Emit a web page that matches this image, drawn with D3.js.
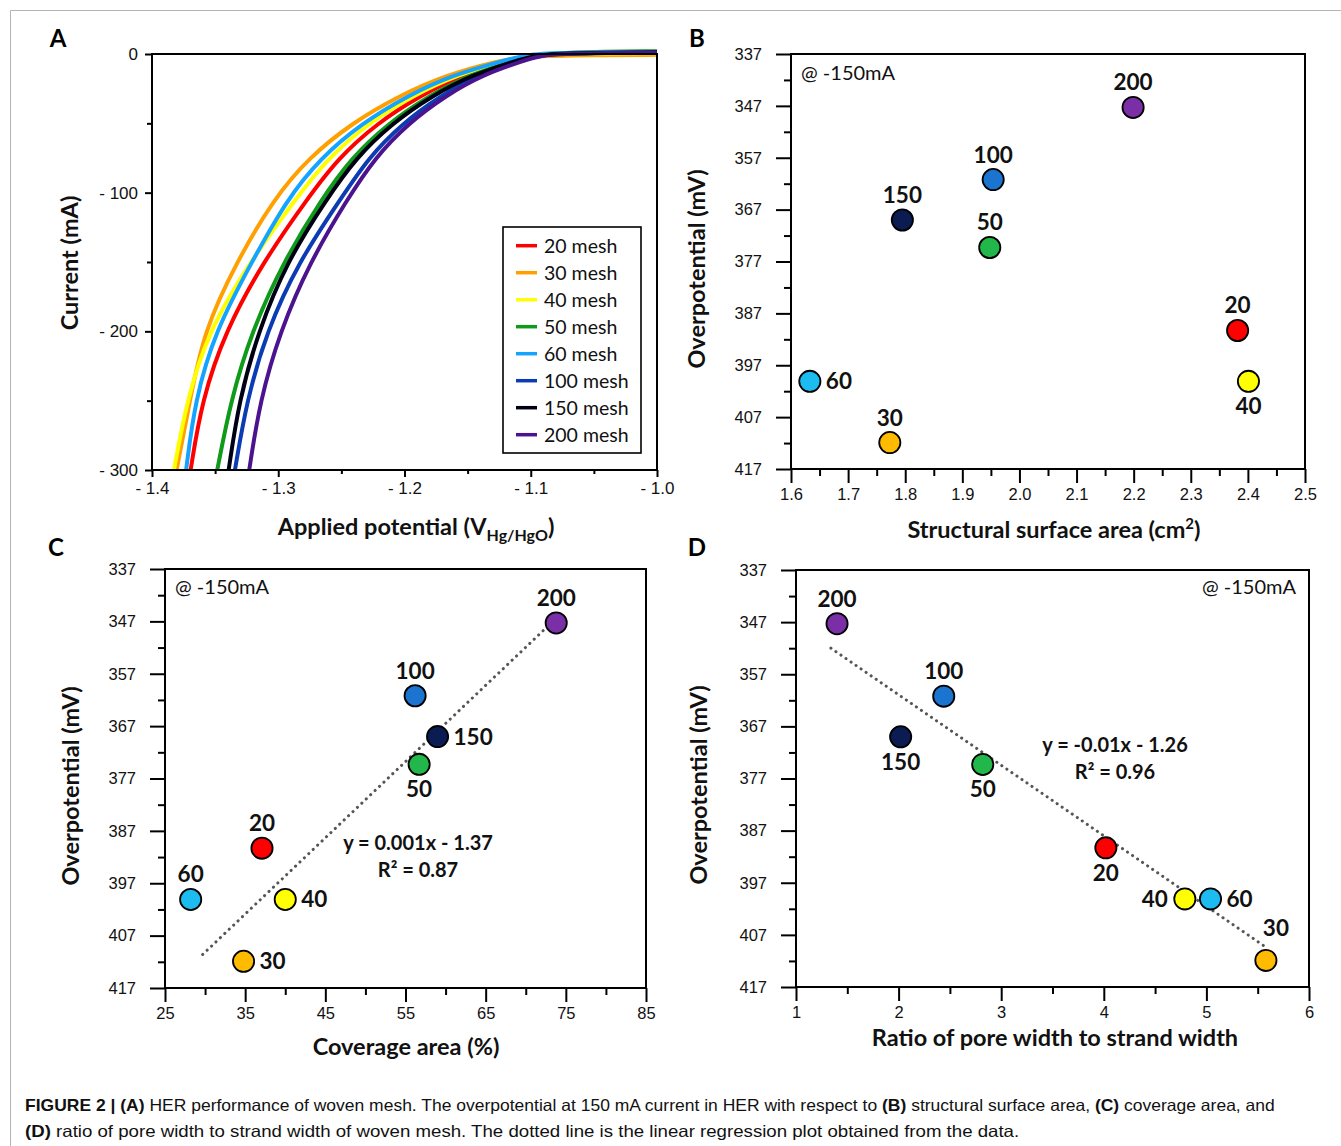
<!DOCTYPE html>
<html>
<head>
<meta charset="utf-8">
<script src="https://cdn.jsdelivr.net/npm/d3@7"></script>
<style>
  body { margin: 0; background: #fff; }
  svg { font-family: Lato, 'Open Sans', sans-serif; }
  .tick text { fill: #111; }
  .tick line { stroke: #000; stroke-width: 2; }
  .domain { display: none; }
  .title { font-weight: bold; font-size: 23.5px; fill: #111; }
  .pt-label { font-weight: bold; font-size: 22.5px; fill: #111; }
  .note { font-size: 20px; fill: #111; }
  .eq { font-weight: bold; font-size: 20px; fill: #111; }
  .letter { font-weight: bold; font-size: 24px; fill: #000; }
  .caption { font-family: 'Liberation Sans Narrow', 'Liberation Sans', Arial, sans-serif; font-size: 16.5px; fill: #111; }
</style>
</head>
<body>
<svg id="chart" width="1341" height="1146"></svg>
<script>

// Mesh sizes
const meshes = [20, 30, 40, 50, 60, 100, 150, 200]
const legend_names = meshes.map(m => `${m} mesh`)

// Panel A: LSV curves as [potential (V), current (mA)]
const lsv_20 = [[-1.3694, -300], [-1.3606, -250], [-1.3420, -200], [-1.3120, -150], [-1.2775, -105], [-1.2524, -75], [-1.2218, -50], [-1.1876, -30], [-1.1540, -15], [-1.1170, -5], [-1.0985, 0], [-1.05, 0.6], [-1.0, 1.0]]
const lsv_30 = [[-1.3805, -300], [-1.3700, -250], [-1.3590, -200], [-1.3330, -150], [-1.3040, -105], [-1.2760, -75], [-1.2420, -50], [-1.2040, -30], [-1.1666, -15], [-1.1256, -5], [-1.1050, -1.5], [-1.05, -0.8], [-1.0, -0.6]]
const lsv_40 = [[-1.3826, -300], [-1.3725, -250], [-1.3554, -200], [-1.3224, -150], [-1.2867, -105], [-1.2605, -75], [-1.2288, -50], [-1.1933, -30], [-1.1583, -15], [-1.1200, -5], [-1.1008, 0], [-1.05, 0.4], [-1.0, 0.6]]
const lsv_50 = [[-1.3483, -300], [-1.3377, -250], [-1.3210, -200], [-1.2960, -150], [-1.2660, -105], [-1.2421, -75], [-1.2130, -50], [-1.1804, -30], [-1.1484, -15], [-1.1133, -5], [-1.0957, 0], [-1.06, 1.5], [-1.0, 2.0]]
const lsv_60 = [[-1.3730, -300], [-1.3660, -250], [-1.3500, -200], [-1.3210, -150], [-1.2933, -105], [-1.2664, -75], [-1.2338, -50], [-1.1973, -30], [-1.1615, -15], [-1.1222, -5], [-1.1024, 0], [-1.07, 1.0], [-1.0, 1.3]]
const lsv_100 = [[-1.3343, -300], [-1.3250, -250], [-1.3092, -200], [-1.2840, -150], [-1.2510, -105], [-1.2288, -75], [-1.2016, -50], [-1.1712, -30], [-1.1413, -15], [-1.1085, -5], [-1.0920, 0], [-1.05, 0.8], [-1.0, 1.2]]
const lsv_150 = [[-1.3393, -300], [-1.3311, -250], [-1.3158, -200], [-1.2933, -150], [-1.2620, -105], [-1.2385, -75], [-1.2099, -50], [-1.1779, -30], [-1.1464, -15], [-1.1118, -5], [-1.0945, 0], [-1.05, 0.8], [-1.0, 1.2]]
const lsv_200 = [[-1.3230, -300], [-1.3145, -250], [-1.2986, -200], [-1.2749, -150], [-1.2455, -105], [-1.2236, -75], [-1.1970, -50], [-1.1673, -30], [-1.1381, -15], [-1.1061, -5], [-1.0900, 0], [-1.05, 0.6], [-1.0, 1.0]]
const lsv_curves = [lsv_20, lsv_30, lsv_40, lsv_50, lsv_60, lsv_100, lsv_150, lsv_200]

const potential_ticks = [-1.4, -1.3, -1.2, -1.1, -1.0]
const potential_minor = [-1.35, -1.25, -1.15, -1.05]
const current_ticks = [0, -100, -200, -300]
const current_minor = [-50, -150, -250]

// Panels B-D: overpotential (mV) at -150 mA per mesh
const overpotential = [390.3, 411.9, 400.1, 374.3, 400.1, 361.2, 369.0, 347.3]
const surface_area = [2.382, 1.773, 2.401, 1.948, 1.633, 1.954, 1.795, 2.199]
const coverage = [37.1, 34.8, 40.0, 56.7, 28.2, 56.2, 59.0, 73.8]
const pore_ratio = [4.02, 5.58, 4.79, 2.82, 5.04, 2.44, 2.02, 1.40]

// Dotted regression lines, end points
const trend_c = [[29.7, 410.6], [72.7, 348.0]]
const trend_d = [[1.34, 352.0], [5.56, 409.1]]

const over_ticks = [337, 347, 357, 367, 377, 387, 397, 407, 417]
const over_minor = [342, 352, 362, 372, 382, 392, 402, 412]
const area_ticks = [1.6, 1.7, 1.8, 1.9, 2.0, 2.1, 2.2, 2.3, 2.4, 2.5]
const area_minor = [1.65, 1.75, 1.85, 1.95, 2.05, 2.15, 2.25, 2.35, 2.45]
const coverage_ticks = [25, 35, 45, 55, 65, 75, 85]
const coverage_minor = [30, 40, 50, 60, 70, 80]
const ratio_ticks = [1, 2, 3, 4, 5, 6]
const ratio_minor = [1.5, 2.5, 3.5, 4.5, 5.5]

// Colours
const curve_colors = ['#ff0000', '#ff9f00', '#ffff00', '#0f9a1a', '#14a4ff', '#0b3cb4', '#000014', '#4b148e']
const dot_colors = ['#ff0000', '#ffbb00', '#ffff00', '#22b74a', '#1cbcf0', '#1b74cf', '#0b1c52', '#7a2fa6']

const svg = d3.select('#chart')

// Figure frame
svg.append('path')
  .attr('d', 'M10.5,1146V10.5H1341')
  .attr('fill', 'none')
  .attr('stroke', '#b4b4b4')
  .attr('stroke-width', 1)

function draw_box(g, box) {
  g.append('rect')
    .attr('x', box.left)
    .attr('y', box.top)
    .attr('width', box.right - box.left)
    .attr('height', box.bottom - box.top)
    .attr('fill', 'none')
    .attr('stroke', '#000')
    .attr('stroke-width', 2)
}

function draw_ticks(g, x, y, box, opt) {
  // Minor ticks
  g.append('g')
    .attr('transform', `translate(0,${box.bottom})`)
    .call(d3.axisBottom(x).tickValues(opt.x_minor).tickSize(opt.x_minor_len).tickFormat(''))
  g.append('g')
    .attr('transform', `translate(${box.left},0)`)
    .call(d3.axisLeft(y).tickValues(opt.y_minor).tickSize(opt.y_minor_len).tickFormat(''))

  // Major ticks and labels
  g.append('g')
    .attr('transform', `translate(0,${box.bottom})`)
    .call(d3.axisBottom(x).tickValues(opt.x_major).tickSize(opt.x_major_len)
      .tickPadding(opt.pad_x).tickFormat(opt.x_fmt))
    .selectAll('text')
    .style('font-size', opt.font + 'px')
  g.append('g')
    .attr('transform', `translate(${box.left},0)`)
    .call(d3.axisLeft(y).tickValues(opt.y_major).tickSize(opt.y_major_len)
      .tickPadding(opt.pad_y).tickFormat(opt.y_fmt))
    .selectAll('text')
    .style('font-size', opt.font + 'px')
}

function add_letter(txt, x, y) {
  svg.append('text').attr('class', 'letter')
    .attr('x', x).attr('y', y)
    .attr('text-anchor', 'middle')
    .text(txt)
}

function add_y_title(x, y, txt) {
  svg.append('text').attr('class', 'title')
    .attr('transform', `translate(${x},${y}) rotate(-90)`)
    .attr('text-anchor', 'middle')
    .text(txt)
}

// ---------------- Panel A ----------------
let box_a = {left: 152, right: 657, top: 54, bottom: 470}
let g_a = svg.append('g')
let x_a = d3.scaleLinear().domain([-1.4, -1.0]).range([box_a.left, box_a.right])
let y_a = d3.scaleLinear().domain([0, -300]).range([box_a.top, box_a.bottom])

g_a.append('clipPath').attr('id', 'clip-a')
  .append('rect')
  .attr('x', box_a.left).attr('y', box_a.top - 10)
  .attr('width', box_a.right - box_a.left)
  .attr('height', box_a.bottom - box_a.top + 10)

let line_a = d3.line()
  .x(d => x_a(d[0]))
  .y(d => y_a(d[1]))
  .curve(d3.curveBasis)

g_a.append('g')
  .attr('clip-path', 'url(#clip-a)')
  .selectAll('path')
  .data(lsv_curves)
  .enter()
  .append('path')
    .attr('d', d => line_a(d))
    .attr('fill', 'none')
    .attr('stroke', (d, i) => curve_colors[i])
    .attr('stroke-width', 4)

draw_box(g_a, box_a)
draw_ticks(g_a, x_a, y_a, box_a, {
  x_major: potential_ticks, x_minor: potential_minor,
  y_major: current_ticks, y_minor: current_minor,
  x_major_len: 7, x_minor_len: 4, y_major_len: 7, y_minor_len: 5,
  pad_x: 5, pad_y: 7, font: 17,
  x_fmt: d => '- ' + Math.abs(d).toFixed(1),
  y_fmt: d => d === 0 ? '0' : '- ' + Math.abs(d)
})

// Legend
let legend = g_a.append('g')
legend.append('rect')
  .attr('x', 503).attr('y', 227)
  .attr('width', 138).attr('height', 226)
  .attr('fill', '#fff')
  .attr('stroke', '#000')
  .attr('stroke-width', 1.6)
let legend_rows = legend.selectAll('g.row')
  .data(legend_names)
  .enter()
  .append('g')
  .attr('class', 'row')
  .attr('transform', (d, i) => `translate(0,${245.7 + i * 27})`)
legend_rows.append('line')
  .attr('x1', 516).attr('x2', 537)
  .attr('stroke', (d, i) => curve_colors[i])
  .attr('stroke-width', 3.5)
legend_rows.append('text')
  .attr('x', 544).attr('y', 7)
  .style('font-size', '19.5px')
  .attr('fill', '#111')
  .text(d => d)

let xt_a = svg.append('text').attr('class', 'title')
  .attr('x', 416).attr('y', 535)
  .attr('text-anchor', 'middle')
xt_a.append('tspan').text('Applied potential (V')
xt_a.append('tspan').attr('dy', 6).style('font-size', '16px').text('Hg/HgO')
xt_a.append('tspan').attr('dy', -6).text(')')
add_y_title(78, 263, 'Current (mA)')
add_letter('A', 58, 47)

// ---------------- Panels B-D ----------------
const label_offsets = {
  top: {dx: 0, dy: -17, anchor: 'middle'},
  bottom: {dx: 0, dy: 33, anchor: 'middle'},
  right: {dx: 16, dy: 8, anchor: 'start'},
  left: {dx: -17, dy: 8, anchor: 'end'},
  topright: {dx: 10, dy: -24, anchor: 'middle'}
}

function draw_scatter(cfg) {
  let box = cfg.box
  let g = svg.append('g')
  let x = d3.scaleLinear().domain(cfg.x_domain).range([box.left, box.right])
  let y = d3.scaleLinear().domain([337, 417]).range([box.top, box.bottom])

  draw_box(g, box)
  draw_ticks(g, x, y, box, {
    x_major: cfg.x_major, x_minor: cfg.x_minor,
    y_major: over_ticks, y_minor: over_minor,
    x_major_len: 14, x_minor_len: 7, y_major_len: 15, y_minor_len: 7,
    pad_x: 5, pad_y: 14, font: 16.5,
    x_fmt: cfg.x_fmt, y_fmt: d => d
  })

  // Regression line
  if (cfg.trend) {
    g.append('path')
      .attr('d', d3.line().x(d => x(d[0])).y(d => y(d[1]))(cfg.trend))
      .attr('fill', 'none')
      .attr('stroke', '#555')
      .attr('stroke-width', 3)
      .attr('stroke-dasharray', '0.1 6')
      .attr('stroke-linecap', 'round')
  }

  let pts = meshes.map((m, i) => ({mesh: m, x: cfg.xs[i], y: overpotential[i], color: dot_colors[i]}))

  g.selectAll('circle.dot')
    .data(pts)
    .enter()
    .append('circle')
      .attr('class', 'dot')
      .attr('cx', d => x(d.x))
      .attr('cy', d => y(d.y))
      .attr('r', 10.6)
      .attr('fill', d => d.color)
      .attr('stroke', '#000')
      .attr('stroke-width', 1.8)

  g.selectAll('text.pt-label')
    .data(pts)
    .enter()
    .append('text')
      .attr('class', 'pt-label')
      .attr('x', d => x(d.x) + label_offsets[cfg.labels[d.mesh]].dx)
      .attr('y', d => y(d.y) + label_offsets[cfg.labels[d.mesh]].dy)
      .attr('text-anchor', d => label_offsets[cfg.labels[d.mesh]].anchor)
      .text(d => d.mesh)

  // Current note
  g.append('text').attr('class', 'note')
    .attr('x', cfg.note[0]).attr('y', cfg.note[1])
    .attr('text-anchor', cfg.note[2])
    .text('@ -150mA')

  // Fit equation
  if (cfg.eq) {
    g.append('text').attr('class', 'eq')
      .attr('x', cfg.eq.x).attr('y', cfg.eq.y)
      .attr('text-anchor', 'middle')
      .text(cfg.eq.line1)
    g.append('text').attr('class', 'eq')
      .attr('x', cfg.eq.x).attr('y', cfg.eq.y + 27)
      .attr('text-anchor', 'middle')
      .text(cfg.eq.line2)
  }
}

// Panel B
draw_scatter({
  box: {left: 791, right: 1305, top: 54, bottom: 469},
  x_domain: [1.6, 2.5], x_major: area_ticks, x_minor: area_minor,
  x_fmt: d => d.toFixed(1),
  xs: surface_area,
  labels: {20: 'top', 30: 'top', 40: 'bottom', 50: 'top', 60: 'right', 100: 'top', 150: 'top', 200: 'top'},
  note: [801, 80, 'start']
})
let xt_b = svg.append('text').attr('class', 'title')
  .attr('x', 1054).attr('y', 538)
  .attr('text-anchor', 'middle')
xt_b.append('tspan').text('Structural surface area (cm')
xt_b.append('tspan').attr('dy', -9).style('font-size', '15px').text('2')
xt_b.append('tspan').attr('dy', 9).text(')')
add_y_title(705, 269, 'Overpotential (mV)')
add_letter('B', 697, 47)

// Panel C
draw_scatter({
  box: {left: 165, right: 646, top: 569, bottom: 988},
  x_domain: [25, 85], x_major: coverage_ticks, x_minor: coverage_minor,
  x_fmt: d => d,
  xs: coverage,
  trend: trend_c,
  labels: {20: 'top', 30: 'right', 40: 'right', 50: 'bottom', 60: 'top', 100: 'top', 150: 'right', 200: 'top'},
  note: [175, 594, 'start'],
  eq: {x: 418, y: 850, line1: 'y = 0.001x - 1.37', line2: 'R² = 0.87'}
})
svg.append('text').attr('class', 'title')
  .attr('x', 406).attr('y', 1055)
  .attr('text-anchor', 'middle')
  .text('Coverage area (%)')
add_y_title(79, 786, 'Overpotential (mV)')
add_letter('C', 56, 556)

// Panel D
draw_scatter({
  box: {left: 796, right: 1309, top: 570, bottom: 987},
  x_domain: [1, 6], x_major: ratio_ticks, x_minor: ratio_minor,
  x_fmt: d => d,
  xs: pore_ratio,
  trend: trend_d,
  labels: {20: 'bottom', 30: 'topright', 40: 'left', 50: 'bottom', 60: 'right', 100: 'top', 150: 'bottom', 200: 'top'},
  note: [1296, 594, 'end'],
  eq: {x: 1115, y: 752, line1: 'y = -0.01x - 1.26', line2: 'R² = 0.96'}
})
svg.append('text').attr('class', 'title')
  .attr('x', 1055).attr('y', 1046)
  .attr('text-anchor', 'middle')
  .text('Ratio of pore width to strand width')
add_y_title(707, 785, 'Overpotential (mV)')
add_letter('D', 697, 556)

// ---------------- Caption ----------------
const caption_1 = [['FIGURE 2 | ', true], ['(A)', true], [' HER performance of woven mesh. The overpotential at 150 mA current in HER with respect to ', false],
  ['(B)', true], [' structural surface area, ', false], ['(C)', true], [' coverage area, and', false]]
const caption_2 = [['(D)', true], [' ratio of pore width to strand width of woven mesh. The dotted line is the linear regression plot obtained from the data.', false]]

let cap = svg.append('g').attr('class', 'caption')
let cap_rows = [[caption_1, 1111, 1250], [caption_2, 1137, 995]]
for (let [parts, y, width] of cap_rows) {
  let t = cap.append('text').attr('x', 0).attr('y', y)
  for (let [s, b] of parts) {
    t.append('tspan').attr('font-weight', b ? 'bold' : 'normal').text(s)
  }
  let k = width / t.node().getComputedTextLength()
  t.attr('transform', `translate(25,0) scale(${k},1)`)
}

</script>
</body>
</html>
